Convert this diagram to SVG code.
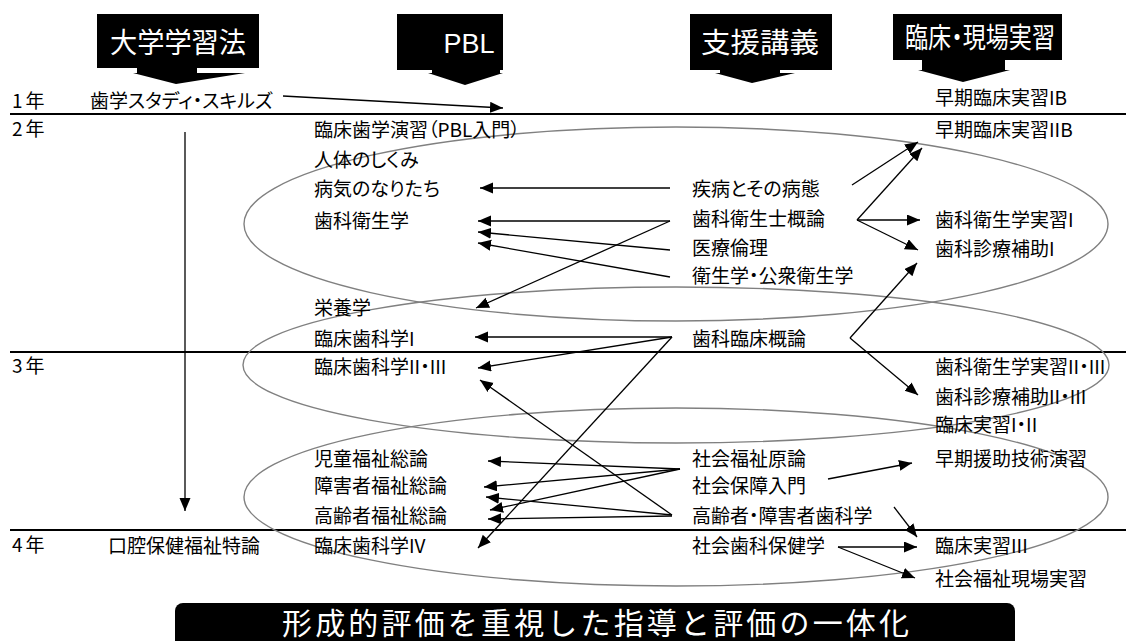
<svg xmlns="http://www.w3.org/2000/svg" width="1126" height="641" viewBox="0 0 1126 641">
<style>
.t{font-family:"Noto Sans CJK JP","Liberation Sans",sans-serif;font-size:19px;fill:#000;font-feature-settings:"palt"}
.y{font-family:"Noto Sans CJK JP","Liberation Sans",sans-serif;font-size:19px;fill:#000;letter-spacing:3px}
.h{font-family:"Noto Sans CJK JP","Liberation Sans",sans-serif;font-size:28px;fill:#fff;text-anchor:middle;font-feature-settings:"palt"}
.c{stroke:#000;stroke-width:1.3;fill:none;marker-end:url(#ah)}
.rl{stroke:#000;stroke-width:1.8}
.el{fill:none;stroke:#808080;stroke-width:1.4}
</style>
<defs>
<marker id="ah" markerUnits="userSpaceOnUse" markerWidth="14" markerHeight="12" refX="13" refY="5.5" orient="auto">
<path d="M0,0 L13,5.5 L0,11 Z" fill="#000"/>
</marker>
</defs>
<rect width="1126" height="641" fill="#fff"/>

<g id="headers">
<g id="h-daigaku"><path d="M97,14 H259 V68 H197 V73 H245 L176,84 L133,73 H137 V68 H97 Z" fill="#000"/><text class="h" x="178" y="53" textLength="136" lengthAdjust="spacingAndGlyphs">大学学習法</text></g>
<g id="h-pbl"><path d="M397,14 H503 V70 H500 V73 H503 L465,85 L428,73 H432 V70 H397 Z" fill="#000"/><text class="h" x="469" y="53" style="font-family:'Liberation Sans',sans-serif;font-size:27px">PBL</text></g>
<g id="h-shien"><path d="M690,14 H832 V70 H780 V73 H795 L752,83 L715,73 H720 V70 H690 Z" fill="#000"/><text class="h" x="760" y="53" textLength="118" lengthAdjust="spacingAndGlyphs">支援講義</text></g>
<g id="h-rinsho"><path d="M893,14 H1062 V60 H1005 V70 H1010 L963,82 L918,70 H922 V60 H893 Z" fill="#000"/><text class="h" x="980" y="48" textLength="150" lengthAdjust="spacingAndGlyphs">臨床・現場実習</text></g>
</g>

<g id="rows">
<line class="rl" x1="10" y1="114" x2="1126" y2="114"/>
<line class="rl" x1="10" y1="352" x2="1126" y2="352"/>
<line class="rl" x1="10" y1="530" x2="1126" y2="530"/>
<text class="y" x="12" y="108">1年</text>
<text class="y" x="12" y="136">2年</text>
<text class="y" x="12" y="373">3年</text>
<text class="y" x="12" y="552">4年</text>
</g>

<g id="ellipses">
<ellipse class="el" cx="676" cy="224" rx="432" ry="97"/>
<ellipse class="el" cx="676" cy="365" rx="433" ry="78"/>
<ellipse class="el" cx="676" cy="497" rx="432" ry="89"/>
</g>

<g id="col-left">
<text class="t" x="90" y="108">歯学スタディ・スキルズ</text>
<text class="t" x="108" y="553">口腔保健福祉特論</text>
</g>

<g id="col-pbl">
<text class="t" x="314" y="137">臨床歯学演習（PBL入門）</text>
<text class="t" x="314" y="167">人体のしくみ</text>
<text class="t" x="314" y="196">病気のなりたち</text>
<text class="t" x="314" y="228">歯科衛生学</text>
<text class="t" x="314" y="315">栄養学</text>
<text class="t" x="314" y="346">臨床歯科学I</text>
<text class="t" x="314" y="374">臨床歯科学II・III</text>
<text class="t" x="314" y="466">児童福祉総論</text>
<text class="t" x="314" y="493">障害者福祉総論</text>
<text class="t" x="314" y="523">高齢者福祉総論</text>
<text class="t" x="314" y="553">臨床歯科学IV</text>
</g>

<g id="col-shien">
<text class="t" x="692" y="196">疾病とその病態</text>
<text class="t" x="692" y="226">歯科衛生士概論</text>
<text class="t" x="692" y="255">医療倫理</text>
<text class="t" x="692" y="283">衛生学・公衆衛生学</text>
<text class="t" x="692" y="346">歯科臨床概論</text>
<text class="t" x="692" y="466">社会福祉原論</text>
<text class="t" x="692" y="493">社会保障入門</text>
<text class="t" x="692" y="523">高齢者・障害者歯科学</text>
<text class="t" x="692" y="553">社会歯科保健学</text>
</g>

<g id="col-rinsho">
<text class="t" x="935" y="105">早期臨床実習IB</text>
<text class="t" x="935" y="137">早期臨床実習IIB</text>
<text class="t" x="935" y="227">歯科衛生学実習I</text>
<text class="t" x="935" y="256">歯科診療補助I</text>
<text class="t" x="935" y="374">歯科衛生学実習II・III</text>
<text class="t" x="935" y="404">歯科診療補助II・III</text>
<text class="t" x="935" y="432">臨床実習I・II</text>
<text class="t" x="935" y="466">早期援助技術演習</text>
<text class="t" x="935" y="553">臨床実習III</text>
<text class="t" x="935" y="586">社会福祉現場実習</text>
</g>

<g id="connectors">
<line class="c" x1="185" y1="132" x2="185" y2="511"/>
<line class="c" x1="283" y1="96" x2="503" y2="108"/>
<line class="c" x1="670" y1="188" x2="480" y2="188"/>
<line class="c" x1="670" y1="221" x2="478" y2="221"/>
<line class="c" x1="670" y1="250" x2="478" y2="232"/>
<line class="c" x1="670" y1="277" x2="478" y2="243"/>
<line class="c" x1="670" y1="221" x2="476" y2="308"/>
<line class="c" x1="672" y1="337" x2="475" y2="337"/>
<line class="c" x1="672" y1="337" x2="478" y2="368"/>
<line class="c" x1="672" y1="337" x2="478" y2="548"/>
<line class="c" x1="672" y1="515" x2="480" y2="380"/>
<line class="c" x1="680" y1="469" x2="488" y2="461"/>
<line class="c" x1="680" y1="469" x2="484" y2="487"/>
<line class="c" x1="680" y1="469" x2="490" y2="510"/>
<line class="c" x1="672" y1="515" x2="486" y2="497"/>
<line class="c" x1="672" y1="516" x2="488" y2="519"/>
<line class="c" x1="852" y1="185" x2="918" y2="142"/>
<line class="c" x1="857" y1="220" x2="922" y2="148"/>
<line class="c" x1="857" y1="220" x2="920" y2="220"/>
<line class="c" x1="857" y1="220" x2="918" y2="250"/>
<line class="c" x1="850" y1="338" x2="917" y2="263"/>
<line class="c" x1="850" y1="338" x2="918" y2="395"/>
<line class="c" x1="828" y1="479" x2="912" y2="463"/>
<line class="c" x1="894" y1="507" x2="917" y2="537"/>
<line class="c" x1="838" y1="547" x2="917" y2="547"/>
<line class="c" x1="838" y1="547" x2="915" y2="578"/>
</g>

<g id="banner">
<rect x="175" y="603" width="840" height="60" rx="8" fill="#000"/>
<text x="282" y="634" textLength="627" lengthAdjust="spacing" style="font-family:'Noto Sans CJK JP','Liberation Sans',sans-serif;font-size:30px;fill:#fff">形成的評価を重視した指導と評価の一体化</text>
</g>
</svg>
